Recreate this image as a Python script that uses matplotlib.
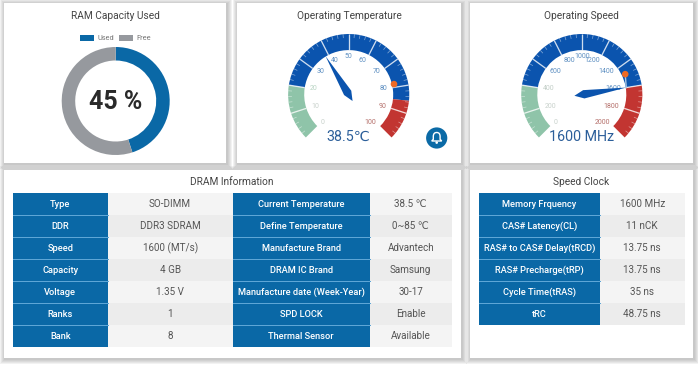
import numpy as np
import matplotlib
matplotlib.use("Agg")
import matplotlib.pyplot as plt
from matplotlib.patches import Wedge, Rectangle, Polygon, Circle, PathPatch
from matplotlib.path import Path

plt.rcParams['font.family'] = ['Roboto', 'DejaVu Sans']

# ---------- data ----------
ram_labels = ["Used", "Free"]
ram_values = [45, 55]
ram_text = "45 %"

temp_value = 38.5
temp_marker = 78.5
temp_ticks = [0, 10, 20, 30, 40, 50, 60, 70, 80, 90, 100]
temp_bands = [0.2, 0.855, 1.0]
temp_text = "38.5\u2103"

speed_value = 1600
speed_marker = 1480
speed_ticks = [0, 200, 400, 600, 800, 1000, 1200, 1400, 1600, 1800, 2000]
speed_bands = [0.2, 0.8, 1.0]
speed_text = "1600 MHz"

dram_col1 = ["Type", "DDR", "Speed", "Capacity", "Voltage", "Ranks", "Bank"]
dram_col2 = ["SO-DIMM", "DDR3 SDRAM", "1600 (MT/s)", "4 GB", "1.35 V", "1", "8"]
dram_col3 = ["Current Temperature", "Define Temperature", "Manufacture Brand", "DRAM IC Brand",
             "Manufacture date (Week-Year)", "SPD LOCK", "Thermal Sensor"]
dram_col4 = ["38.5 \u2103", "0~85 \u2103", "Advantech", "Samsung", "30-17", "Enable", "Available"]
clock_col1 = ["Memory Frquency", "CAS# Latency(CL)", "RAS# to CAS# Delay(tRCD)",
              "RAS# Precharge(tRP)", "Cycle Time(tRAS)", "tRC"]
clock_col2 = ["1600 MHz", "11 nCK", "13.75 ns", "13.75 ns", "35 ns", "48.75 ns"]

# ---------- style ----------
W, H = 698, 366
BLUE = "#0a68a6"
GREY = "#96999e"
G_BLUE = "#0b54ae"
G_GREEN = "#8fc4a9"
G_RED = "#c23531"
TITLE = "#444444"
FS_TITLE = 7.3
FS_LABEL = 6.7
FS_VALUE = 7.1
FS_TICK = 5.0
FS_LEGEND = 5.3
FS_BIG = 18
FS_GAUGE = 10.3
px = 0.72  # points per pixel at dpi 100

fig = plt.figure(figsize=(W / 100, H / 100), dpi=100, facecolor="white")
bg = fig.add_axes([0, 0, 1, 1])
bg.set_xlim(0, W)
bg.set_ylim(H, 0)
bg.axis("off")


def panel(x0, y0, x1, y1, title, tx, ty):
    for grow in [5, 4, 3, 2, 1]:
        off = 1.0
        bg.add_patch(Rectangle((x0 - grow + off, y0 - grow + off), x1 - x0 + 2 * grow, y1 - y0 + 2 * grow,
                               fc="#707070", ec="none", alpha=0.09))
    bg.add_patch(Rectangle((x0, y0), x1 - x0, y1 - y0, fc="white", ec="none"))
    bg.text(tx, ty, title, ha="center", va="center", fontsize=FS_TITLE, color=TITLE)


panel(4, 3, 226, 163, "RAM Capacity Used", 115.5, 16)
panel(237, 3, 461, 163, "Operating Temperature", 349, 16)
panel(470, 3, 693, 163, "Operating Speed", 581, 16)
panel(4, 170, 461, 358, "DRAM Information", 231.5, 182)
panel(470, 170, 693, 358, "Speed Clock", 581, 182)


def pix_axes(cx, cy, half):
    ax = fig.add_axes([(cx - half) / W, 1 - (cy + half) / H, 2 * half / W, 2 * half / H])
    ax.set_xlim(-half, half)
    ax.set_ylim(-half, half)
    ax.set_aspect("equal")
    ax.axis("off")
    ax.patch.set_alpha(0)
    return ax


# ---------- donut ----------
ax = pix_axes(115.7, 101, 60)
wedges, _ = ax.pie(ram_values, colors=[BLUE, GREY], startangle=90, counterclock=False, radius=54,
                   wedgeprops=dict(width=13.5, edgecolor="none"), center=(0, 0), frame=False)
ax.set_xlim(-60, 60)
ax.set_ylim(-60, 60)
ax.text(0, -1, ram_text, ha="center", va="center", fontsize=FS_BIG, fontweight="bold", color="#2a2a2a")
leg = fig.legend(wedges, ram_labels, loc="center", bbox_to_anchor=(115.5 / W, 1 - 38.5 / H), ncols=2, frameon=False,
                 fontsize=FS_LEGEND, labelcolor="#777777", handlelength=1.9, handleheight=1.0,
                 handletextpad=0.4, columnspacing=0.7, borderpad=0)


# ---------- gauges ----------
def gauge(cx, cy, ticks, bands, value, marker, text, text_y, fmt_colors, pin=False):
    R, r = 60.6, 44.5
    vmax = ticks[-1]
    ang = lambda v: 225 - 270 * v / vmax
    ax = pix_axes(cx, cy, 75)
    prev = 0
    for frac, col in zip(bands, [G_GREEN, G_BLUE, G_RED]):
        ax.add_patch(Wedge((0, 0), R, 225 - 270 * frac, 225 - 270 * prev, width=R - r, fc=col, ec="none"))
        prev = frac
    step = ticks[1] - ticks[0]
    for i, t in enumerate(ticks):
        a = np.radians(ang(t))
        u = np.array([np.cos(a), np.sin(a)])
        if 0 < i < len(ticks) - 1:
            ax.plot(*np.c_[u * r, u * R], color="white", lw=1.3 * px, alpha=0.8, solid_capstyle="butt")
        if i < len(ticks) - 1:
            for k in range(1, 5):
                b = np.radians(ang(t + step * k / 5))
                ub = np.array([np.cos(b), np.sin(b)])
                ax.plot(*np.c_[ub * (R - 3.8), ub * R], color="white", lw=0.7 * px, alpha=0.5, solid_capstyle="butt")
        ha = "left" if u[0] < -0.4 else ("right" if u[0] > 0.4 else "center")
        ax.text(u[0] * 39.5, u[1] * 39.5 - (1 if u[1] > 0.8 else 0), str(t), ha=ha, va="center",
                fontsize=FS_TICK, color=fmt_colors[i])
    a = np.radians(ang(value))
    u = np.array([np.cos(a), np.sin(a)])
    n = np.array([-u[1], u[0]])
    ax.add_patch(Polygon([u * 45, u * 2 + n * 4.2, -u * 7.5, u * 2 - n * 4.2], closed=True, fc=G_BLUE, ec="none", zorder=4))
    m = np.radians(ang(marker))
    um = np.array([np.cos(m), np.sin(m)])
    if pin:
        ax.plot([um[0] * 48, u[0] * 45], [um[1] * 48, u[1] * 45], color="#a9c8e6", lw=1.4 * px, zorder=4)
    ax.add_patch(Circle(um * (48 if pin else 46.5), 3.3, fc="#ee6a24", ec="none", zorder=5))
    ax.text(0, cy - text_y - 1.2, text, ha="center", va="center", fontsize=FS_GAUGE, color="#2c5f9a", zorder=6)


PALE = "#c9d2cc"
PALEG = "#b9d5c4"
MB = "#5f90c2"
MR = "#b5706b"
cols = [PALE, PALE, PALEG] + [MB] * 6 + [MR] * 2
gauge(348.7, 94.6, temp_ticks, temp_bands, temp_value, temp_marker, temp_text, 136, cols)
gauge(581.8, 94.6, speed_ticks, speed_bands, speed_value, speed_marker, speed_text, 136, [PALE, PALE, "#c3cfc8"] + [MB] * 6 + [MR] * 2, pin=True)

# ---------- bell icon ----------
bg.add_patch(Circle((436.7, 138), 10.6, fc="#0b6aa6", ec="none"))
bx, by = 436.7, 137.5
bell = Path([(bx - 5, by + 3.5), (bx - 3.4, by + 1.8), (bx - 3.4, by - 1), (bx - 3.4, by - 5), (bx, by - 5), (bx + 3.4, by - 5),
             (bx + 3.4, by - 1), (bx + 3.4, by + 1.8), (bx + 5, by + 3.5), (bx - 5, by + 3.5)],
            [Path.MOVETO, Path.LINETO, Path.LINETO, Path.CURVE3, Path.CURVE3, Path.CURVE3, Path.CURVE3,
             Path.LINETO, Path.LINETO, Path.CLOSEPOLY])
bg.add_patch(PathPatch(bell, fc="none", ec="white", lw=1.0))
bg.add_patch(Circle((bx, by + 5.1), 1.3, fc="white", ec="none"))


# ---------- tables ----------
def table(cols, edges, y0, row_h):
    for c, col in enumerate(cols):
        x0, x1 = edges[c], edges[c + 1]
        for i, val in enumerate(col):
            y = y0 + i * row_h
            if c % 2 == 0:
                bg.add_patch(Rectangle((x0, y), x1 - x0, row_h, fc=BLUE, ec="none"))
                if i:
                    bg.plot([x0, x1], [y, y], color="#5ea6d6", lw=1 * px)
                bg.text((x0 + x1) / 2, y + row_h / 2, val, ha="center", va="center", color="white",
                        fontsize=FS_LABEL, fontweight="medium")
            else:
                bg.add_patch(Rectangle((x0, y), x1 - x0, row_h, fc="#f4f4f4" if i % 2 == 0 else "#ececec", ec="none"))
                bg.text((x0 + x1) / 2, y + row_h / 2, val, ha="center", va="center", color="#555555",
                        fontsize=FS_VALUE)


table([dram_col1, dram_col2, dram_col3, dram_col4], [12.7, 107.7, 232.6, 369.6, 452], 193.3, 21.96)
table([clock_col1, clock_col2], [479, 599.6, 685], 193.3, 21.96)
bg.set_xlim(0, W)
bg.set_ylim(H, 0)

fig.savefig("out.png", dpi=100, facecolor=fig.get_facecolor())
